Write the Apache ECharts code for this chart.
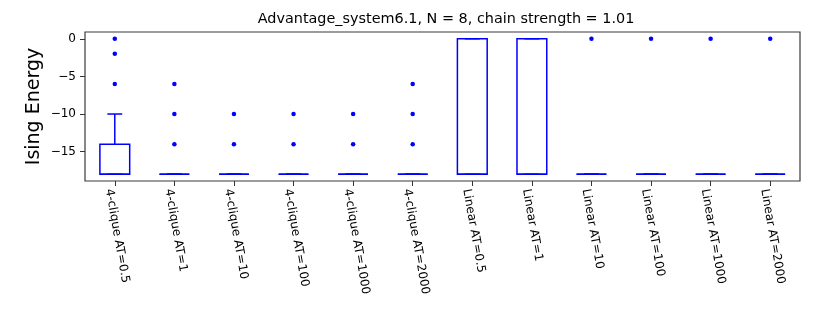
<!DOCTYPE html>
<html>
<head>
<meta charset="utf-8">
<script src="https://cdn.jsdelivr.net/npm/echarts@6/dist/echarts.min.js"></script>
<style>html,body{margin:0;padding:0;background:#fff;}#c{width:814px;height:317px;}</style>
</head>
<body>
<div id="c"></div>
<script>
const categories = ['4-clique AT=0.5','4-clique AT=1','4-clique AT=10','4-clique AT=100','4-clique AT=1000','4-clique AT=2000',
  'Linear AT=0.5','Linear AT=1','Linear AT=10','Linear AT=100','Linear AT=1000','Linear AT=2000'];
const whiskerLow  = [-18,-18,-18,-18,-18,-18,-18,-18,-18,-18,-18,-18];
const q1          = [-18,-18,-18,-18,-18,-18,-18,-18,-18,-18,-18,-18];
const median      = [-18,-18,-18,-18,-18,-18,-18,-18,-18,-18,-18,-18];
const q3          = [-14,-18,-18,-18,-18,-18,0,0,-18,-18,-18,-18];
const whiskerHigh = [-10,-18,-18,-18,-18,-18,0,0,-18,-18,-18,-18];
const outliers = [[0,-2,-6],[-6,-10,-14],[-10,-14],[-10,-14],[-10,-14],[-6,-10,-14],[],[],[0],[0],[0],[0]];
const yTicks = [0,-5,-10,-15];

const boxData = categories.map((c,i)=>[i, whiskerLow[i], q1[i], median[i], q3[i], whiskerHigh[i]]);
const flierData = [];
outliers.forEach((arr,i)=>arr.forEach(v=>flierData.push([i,v])));

const BLUE = '#0000ff';
const chart = echarts.init(document.getElementById('c'));
chart.setOption({
  animation:false,
  textStyle:{fontFamily:'DejaVu Sans'},
  graphic:[{type:'text', x:446, y:19, style:{text:'Advantage_system6.1, N = 8, chain strength = 1.01', fill:'#000', font:'14.4px "DejaVu Sans"', align:'center', verticalAlign:'middle'}}],
  grid:{left:85,right:14,top:32,bottom:136,show:true,borderColor:'#3a3a3a',borderWidth:1.2,backgroundColor:'transparent'},
  xAxis:{type:'category',data:categories,boundaryGap:true,
    axisLine:{show:false,onZero:false},
    axisTick:{show:true,alignWithLabel:true,length:5,lineStyle:{color:'#333'}},
    axisLabel:{rotate:-80,color:'#000',fontSize:12,margin:7,interval:0,verticalAlign:'top',fontFamily:'DejaVu Sans'},
    splitLine:{show:false}},
  yAxis:{type:'value',min:-18.9,max:0.9,
    name:'Ising Energy',nameLocation:'middle',nameGap:41,nameMoveOverlap:false,nameTextStyle:{fontSize:19,color:'#000',fontFamily:'DejaVu Sans'},
    axisLine:{show:false},
    axisTick:{show:true,length:5,lineStyle:{color:'#333'},customValues:yTicks},
    axisLabel:{color:'#000',fontSize:12,margin:9,customValues:yTicks,formatter:v=>String(v).replace('-','\u2212'),fontFamily:'DejaVu Sans'},
    splitLine:{show:false}},
  series:[
    {type:'custom',data:boxData,encode:{x:0,y:[1,2,3,4,5]},
     renderItem:function(params,api){
       const i=api.value(0);
       const bw=api.size([1,0])[0];
       const half=bw*0.25, cap=bw*0.125;
       const xc=api.coord([i,0])[0];
       const yl=api.coord([i,api.value(1)])[1];
       const y1=api.coord([i,api.value(2)])[1];
       const ym=api.coord([i,api.value(3)])[1];
       const y3=api.coord([i,api.value(4)])[1];
       const yh=api.coord([i,api.value(5)])[1];
       const st={stroke:BLUE,lineWidth:1.5,fill:null};
       return {type:'group',children:[
         {type:'line',shape:{x1:xc,y1:y3,x2:xc,y2:yh},style:st},
         {type:'line',shape:{x1:xc,y1:y1,x2:xc,y2:yl},style:st},
         {type:'line',shape:{x1:xc-cap,y1:yh,x2:xc+cap,y2:yh},style:st},
         {type:'line',shape:{x1:xc-cap,y1:yl,x2:xc+cap,y2:yl},style:st},
         {type:'rect',shape:{x:xc-half,y:y3,width:2*half,height:y1-y3},style:{stroke:BLUE,lineWidth:1.5,fill:'none'}},
         {type:'line',shape:{x1:xc-half,y1:ym,x2:xc+half,y2:ym},style:st}
       ]};
     },z:2},
    {type:'scatter',data:flierData,symbol:'circle',symbolSize:4.5,itemStyle:{color:BLUE,opacity:1},z:3}
  ]
});
</script>
</body>
</html>
